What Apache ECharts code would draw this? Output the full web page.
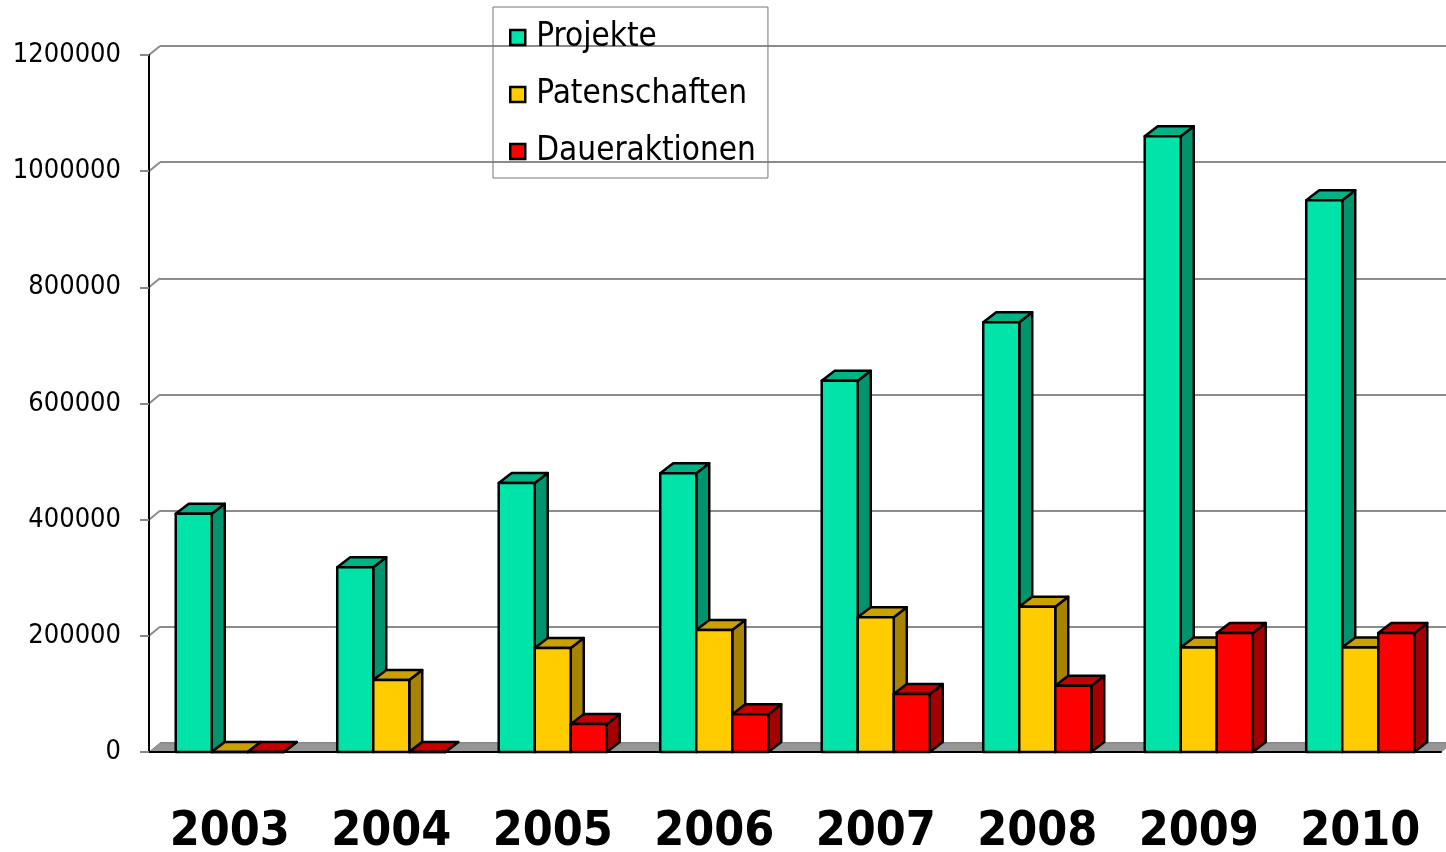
<!DOCTYPE html>
<html>
<head>
<meta charset="utf-8">
<script src="https://cdn.jsdelivr.net/npm/echarts@6/dist/echarts.min.js"></script>
<style>
html, body { margin: 0; padding: 0; background: #fff; }
#chart { width: 1446px; height: 852px; }
</style>
</head>
<body>
<div id="chart"></div>
<script>
// data
const years = ['2003', '2004', '2005', '2006', '2007', '2008', '2009', '2010'];
const projekte = [410000, 318000, 463000, 480000, 639000, 740000, 1060000, 950000];
const patenschaften = [0, 124000, 179000, 210000, 232000, 250000, 180000, 180000];
const daueraktionen = [0, 0, 48000, 65000, 100000, 114000, 205000, 205000];
const yTicks = [0, 200000, 400000, 600000, 800000, 1000000, 1200000];

const FONT = '"DejaVu Sans Condensed", "DejaVu Sans", sans-serif';
// depth of the bars and of the back wall (pseudo 3d)
const DX = 13, DY = -10;
const WX = 11, WY = -9;

const chart = echarts.init(document.getElementById('chart'));

function barRenderer(slot, front, side, top) {
    return function (params, api) {
        const cat = api.value(0);
        const val = api.value(1);
        const base = api.coord([cat, 0]);
        const head = api.coord([cat, val]);
        const catW = api.size([1, 0])[0];
        const bw = catW * 0.223;
        const x0 = base[0] - 1.5 * bw + slot * bw;
        const x1 = x0 + bw;
        const y0 = base[1], y1 = head[1];
        const line = { stroke: '#000', lineWidth: 2.5, lineJoin: 'round' };
        return {
            type: 'group',
            children: [
                {
                    type: 'polygon',
                    shape: { points: [[x1, y0], [x1 + DX, y0 + DY], [x1 + DX, y1 + DY], [x1, y1]] },
                    style: Object.assign({ fill: side }, line)
                },
                {
                    type: 'polygon',
                    shape: { points: [[x0, y1], [x1, y1], [x1 + DX, y1 + DY], [x0 + DX, y1 + DY]] },
                    style: Object.assign({ fill: top }, line)
                },
                {
                    type: 'rect',
                    shape: { x: x0, y: y1, width: bw, height: y0 - y1 },
                    style: Object.assign({ fill: front }, line)
                }
            ]
        };
    };
}

function barSeries(name, values, slot, front, side, top) {
    return {
        name: name,
        type: 'custom',
        xAxisIndex: 0,
        yAxisIndex: 0,
        z: 3,
        itemStyle: { color: front, borderColor: '#000', borderWidth: 2 },
        renderItem: barRenderer(slot, front, side, top),
        data: values.map((v, i) => [i, v])
    };
}

const option = {
    backgroundColor: '#fff',
    animation: false,
    legend: {
        orient: 'vertical',
        left: 493,
        top: 7,
        padding: [14, 12, 10, 16],
        itemGap: 24,
        itemWidth: 15,
        itemHeight: 15,
        icon: 'rect',
        borderColor: '#777',
        borderWidth: 1,
        borderRadius: 0,
        itemStyle: { borderColor: '#000', borderWidth: 2.5 },
        textStyle: {
            fontFamily: FONT,
            fontSize: 33,
            lineHeight: 33,
            color: '#000',
            padding: [0, 0, 0, 6]
        },
        data: ['Projekte', 'Patenschaften', 'Daueraktionen']
    },
    grid: [
        { left: 149, right: 5, top: 55, bottom: 100, outerBoundsMode: 'none' },
        { left: 149 + WX, right: 5 - WX, top: 55 + WY, bottom: 100 - WY, outerBoundsMode: 'none' }
    ],
    xAxis: [
        {
            type: 'category',
            gridIndex: 0,
            data: years,
            z: 10,
            axisLine: { lineStyle: { color: '#000', width: 2 } },
            axisTick: { length: 17, lineStyle: { color: '#333', width: 2 } },
            axisLabel: {
                margin: 57,
                fontFamily: FONT,
                fontWeight: 'bold',
                fontSize: 48,
                color: '#000'
            }
        },
        {
            type: 'category',
            gridIndex: 1,
            data: years,
            show: false
        }
    ],
    yAxis: [
        {
            type: 'value',
            gridIndex: 0,
            min: 0,
            max: 1200000,
            interval: 200000,
            z: 10,
            axisLine: { show: true, lineStyle: { color: '#000', width: 2 } },
            axisTick: { show: true, length: 9, lineStyle: { color: '#888', width: 2 } },
            axisLabel: {
                margin: 28,
                fontFamily: FONT,
                fontSize: 27,
                color: '#000',
                formatter: function (v) { return String(v); }
            },
            splitLine: { show: false }
        },
        {
            type: 'value',
            gridIndex: 1,
            min: 0,
            max: 1200000,
            interval: 200000,
            axisLine: { show: false },
            axisTick: { show: false },
            axisLabel: { show: false },
            splitLine: { show: true, lineStyle: { color: '#8c8c8c', width: 2 } }
        }
    ],
    series: [
        // floor and the little wall connectors
        {
            type: 'custom',
            xAxisIndex: 0,
            yAxisIndex: 0,
            z: 2,
            silent: true,
            renderItem: function (params, api) {
                const cs = params.coordSys;
                const y0 = api.coord([0, 0])[1];
                const kids = [{
                    type: 'polygon',
                    shape: { points: [[cs.x, y0], [cs.x + cs.width, y0], [cs.x + cs.width + WX, y0 + WY], [cs.x + WX, y0 + WY]] },
                    style: { fill: '#969696', stroke: '#888', lineWidth: 1 }
                }];
                yTicks.forEach(function (t) {
                    if (t === 0) return;
                    const y = api.coord([0, t])[1];
                    kids.push({
                        type: 'line',
                        shape: { x1: cs.x, y1: y, x2: cs.x + WX, y2: y + WY },
                        style: { stroke: '#8c8c8c', lineWidth: 2 }
                    });
                });
                return { type: 'group', children: kids };
            },
            data: [[0, 0]]
        },
        barSeries('Projekte', projekte, 0, '#00e3a9', '#00946e', '#00b386'),
        barSeries('Patenschaften', patenschaften, 1, '#ffcc00', '#a68400', '#c9a100'),
        barSeries('Daueraktionen', daueraktionen, 2, '#ff0000', '#a30000', '#c40000')
    ]
};

chart.setOption(option);
window.addEventListener('resize', function () {
    chart.resize();
});
</script>
</body>
</html>
